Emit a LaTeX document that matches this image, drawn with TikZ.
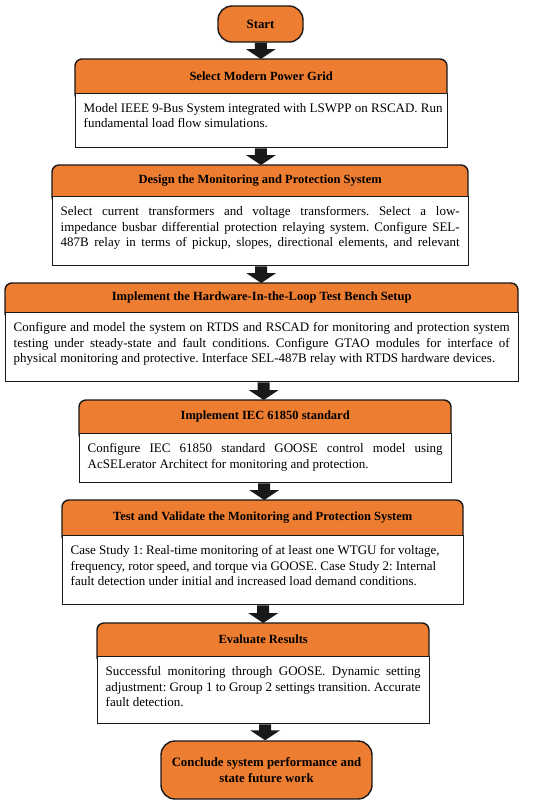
\documentclass[tikz,border=0pt]{standalone}
\usepackage{fontspec}
\setmainfont{Liberation Serif}
\usetikzlibrary{calc}
\definecolor{orng}{RGB}{237,125,49}
\definecolor{edge}{RGB}{25,25,25}
\tikzset{
  hdr/.style={draw=none, inner sep=0pt, font=\bfseries\fontsize{12.5}{15}\selectfont, align=center},
  hdrbg/.style={draw=edge, line width=1.4pt, fill=orng, rounded corners=7pt},
  bodybox/.style={draw=edge, line width=1.4pt, fill=white, inner sep=0pt},
  bodytext/.style={inner sep=0pt, anchor=north west, font=\fontsize{13}{15.7}\selectfont},
  term/.style={draw=edge, line width=1.4pt, fill=orng, rounded corners=14pt,
    font=\bfseries\fontsize{12.8}{16.5}\selectfont, align=center, inner sep=0pt},
}
% #1 name, #2 x left, #3 y top, #4 width, #5 header height, #6 body height, #7 title, #8 text
\newcommand\flowstep[8]{%
  \pgfmathsetmacro\fsTW{#4-17}%
  \draw[hdrbg] (#2,#3+#5+8) rectangle (#2+#4,#3);
  \node[hdr, minimum width=#4pt, minimum height=#5pt, anchor=north west] (#1h) at (#2,#3) {#7};
  \node[bodybox, minimum width=#4pt, minimum height=#6pt, anchor=north west] (#1b) at (#2,#3+#5) {};
  \node[bodytext, align=left] (#1t) at (#2+8.5,#3+#5+10) {#8};
}
% justified full-width line
\newcommand\jl[1]{\hbox to \fsTW pt{#1}}
\newcommand\fatarrow[2]{%
  \path ($(#1.south)!0.5!(#2.north)$) coordinate (fam);
  \fill[edge] let \p1=(#1.south), \p2=(#2.north), \p3=(fam) in
    (\x3-6pt,\y1) -- (\x3-6pt,\y2+10pt) -- (\x3-15pt,\y2+10pt) -- (\x3,\y2)
    -- (\x3+15pt,\y2+10pt) -- (\x3+6pt,\y2+10pt) -- (\x3+6pt,\y1) -- cycle;
}
\begin{document}
\frenchspacing
\begin{tikzpicture}[x=1pt,y=-1pt]
\useasboundingbox (0,0) rectangle (550,804);

\node[term, minimum width=85pt, minimum height=36pt] (start) at (260.5,24) {Start};

\flowstep{s1}{75}{59}{372}{34}{54}{Select Modern Power Grid}
{Model IEEE 9-Bus System integrated with LSWPP on RSCAD. Run\\ fundamental load flow simulations.}

\flowstep{s2}{52}{165}{416}{31}{69}{Design the Monitoring and Protection System}
{\jl{Select current transformers and voltage transformers. Select a low-}\\
 \jl{impedance busbar differential protection relaying system. Configure SEL-}\\
 \jl{487B relay in terms of pickup, slopes, directional elements, and relevant}}

\flowstep{s3}{5}{283}{513}{29}{69}{Implement the Hardware-In-the-Loop Test Bench Setup}
{\jl{Configure and model the system on RTDS and RSCAD for monitoring and protection system}\\
 \jl{testing under steady-state and fault conditions. Configure GTAO modules for interface of}\\
 physical monitoring and protective. Interface SEL-487B relay with RTDS hardware devices.}

\flowstep{s4}{79}{400}{372}{33}{49}{Implement IEC 61850 standard}
{\jl{Configure IEC 61850 standard GOOSE control model using}\\
 AcSELerator Architect for monitoring and protection.}

\flowstep{s5}{62}{500}{401}{35}{69}{Test and Validate the Monitoring and Protection System}
{Case Study 1: Real-time monitoring of at least one WTGU for voltage,\\ frequency, rotor speed, and torque via GOOSE. Case Study 2: Internal\\ fault detection under initial and increased load demand conditions.}

\flowstep{s6}{97}{623}{332}{33}{67}{Evaluate Results}
{\jl{Successful monitoring through GOOSE. Dynamic setting}\\
 \jl{adjustment: Group 1 to Group 2 settings transition. Accurate}\\
 fault detection.}

\node[term, minimum width=211pt, minimum height=58pt] (end) at (266.5,770) {Conclude system performance and\\ state future work};

\fatarrow{start}{s1h}
\fatarrow{s1b}{s2h}
\fatarrow{s2b}{s3h}
\fatarrow{s3b}{s4h}
\fatarrow{s4b}{s5h}
\fatarrow{s5b}{s6h}
\fatarrow{s6b}{end}
\end{tikzpicture}
\end{document}
